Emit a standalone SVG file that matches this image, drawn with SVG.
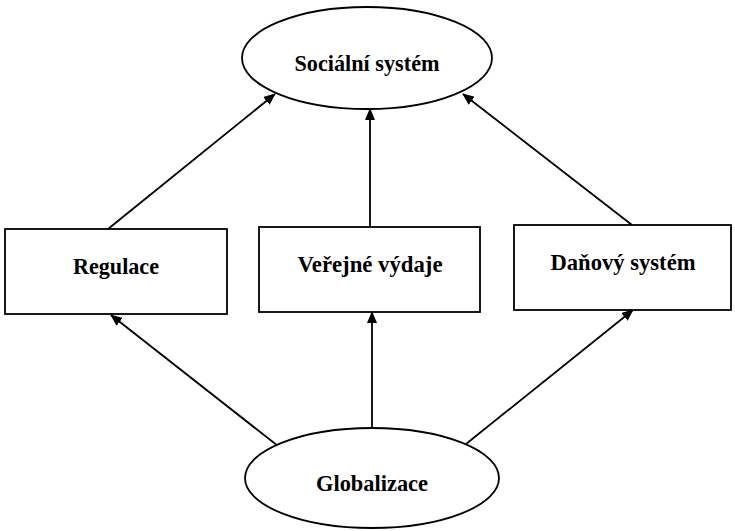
<svg xmlns="http://www.w3.org/2000/svg" width="735" height="531" viewBox="0 0 735 531">
<defs>
<style>
.shape{fill:#fff;stroke:#000;stroke-width:1.8}
.lbl{font-family:"Liberation Serif","Times New Roman",serif;font-weight:bold;font-size:23.5px;text-anchor:middle;fill:#000}
.conn{stroke:#000;stroke-width:1.8;fill:none;marker-end:url(#ah)}
</style>
<marker id="ah" viewBox="0 0 12 10" refX="11" refY="5" markerWidth="12" markerHeight="10" markerUnits="userSpaceOnUse" orient="auto">
<path d="M0,0 L12,5 L0,10 Z" fill="#000"/>
</marker>
</defs>
<rect width="735" height="531" fill="#fff"/>
<g id="connectors">
<line class="conn" x1="108" y1="229" x2="275" y2="94"/>
<line class="conn" x1="370" y1="227" x2="370" y2="109"/>
<line class="conn" x1="632" y1="225" x2="463" y2="94"/>
<line class="conn" x1="278" y1="446" x2="111" y2="315"/>
<line class="conn" x1="372" y1="428" x2="372" y2="312"/>
<line class="conn" x1="466" y1="444" x2="633" y2="310"/>
</g>
<g id="socialni-system">
<ellipse class="shape" cx="367" cy="58" rx="125" ry="51"/>
<text class="lbl" x="367" y="71" textLength="145" lengthAdjust="spacingAndGlyphs">Sociální systém</text>
</g>
<g id="regulace">
<rect class="shape" x="5" y="229" width="222" height="85"/>
<text class="lbl" x="116" y="274" textLength="86" lengthAdjust="spacingAndGlyphs">Regulace</text>
</g>
<g id="verejne-vydaje">
<rect class="shape" x="259" y="227" width="221" height="85"/>
<text class="lbl" x="370" y="272" textLength="145" lengthAdjust="spacingAndGlyphs">Veřejné výdaje</text>
</g>
<g id="danovy-system">
<rect class="shape" x="514" y="225" width="217" height="85"/>
<text class="lbl" x="623" y="270" textLength="145" lengthAdjust="spacingAndGlyphs">Daňový systém</text>
</g>
<g id="globalizace">
<ellipse class="shape" cx="372" cy="478" rx="127" ry="50"/>
<text class="lbl" x="372" y="491" textLength="112" lengthAdjust="spacingAndGlyphs">Globalizace</text>
</g>
</svg>
